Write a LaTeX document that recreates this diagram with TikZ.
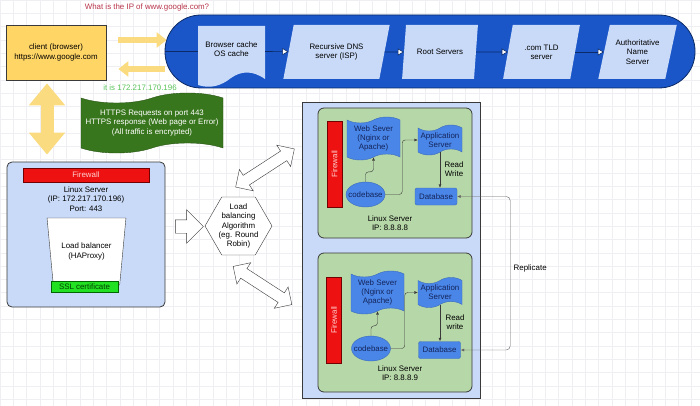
\documentclass[tikz,border=0pt]{standalone}
\usepackage{fontspec}
\setmainfont{Liberation Sans}
\usepackage{xcolor}
\usepackage{tikz}
\usetikzlibrary{arrows.meta, positioning, calc, shapes.geometric, shapes.symbols, shapes.arrows}
\definecolor{ink}{HTML}{3A3A3A}
\definecolor{navy}{HTML}{0B2A66}
\definecolor{pillblue}{HTML}{1A56C8}
\definecolor{softblue}{HTML}{C9DAF8}
\definecolor{clientgold}{HTML}{FFD666}
\definecolor{arrowgold}{HTML}{FADB80}
\definecolor{bannergreen}{HTML}{38761D}
\definecolor{servergreen}{HTML}{B6D7A8}
\definecolor{appblue}{HTML}{4A86E8}
\definecolor{apptext}{HTML}{13245A}
\definecolor{firered}{HTML}{EE1111}
\definecolor{sslgreen}{HTML}{22E022}
\definecolor{asktext}{HTML}{B8354A}
\definecolor{answertext}{HTML}{5CC45C}
\definecolor{gridline}{HTML}{EEEEF3}

\begin{document}
\begin{tikzpicture}[x=1pt, y=-1pt,
  font=\fontsize{7.9}{9.2}\selectfont,
  box/.style={draw=ink, thick, align=center, inner sep=1pt},
  dnsstep/.style={trapezium, trapezium left angle=70, trapezium right angle=110,
    trapezium stretches=true, fill=softblue, align=center, inner sep=1pt, minimum height=54},
  chain/.style={draw=navy, semithick},
  hop/.style={chain, -{Triangle[fill=white, length=6pt, width=7pt]}},
  goldbolt/.style={draw=arrowgold},
  hollow/.style={draw=ink, fill=white, inner sep=5.5pt, double arrow head extend=7pt, minimum height=70},
  firewall/.style={draw=red!45!black, fill=firered, text=white!82!red, inner sep=0pt},
  webshape/.style={tape, tape bend height=6pt, fill=appblue, draw=appblue!80!black, text=apptext, align=center, inner sep=1pt},
  codeblob/.style={ellipse, fill=appblue, draw=appblue!80!black, minimum width=39, minimum height=25, inner sep=0pt, label={[text=apptext]center:codebase}},
  dbbox/.style={rounded corners=2pt, fill=appblue, draw=appblue!80!black, text=apptext, minimum width=42, minimum height=17, inner sep=0pt},
  srvbox/.style={box, fill=servergreen, rounded corners=6pt, minimum width=154},
  flow/.style={draw=ink, ->},
  >={Latex[length=3.5pt, width=3pt]}
]
\useasboundingbox (0,0) rectangle (700,406);
\fill[white] (0,0) rectangle (700,406);
\draw[gridline, step=13.3pt] (0,406) grid (700,0);

\node[text=asktext] (ask) at (147,7) {What is the IP of www.google.com?};
\node[box, fill=clientgold, minimum width=100, minimum height=55] (client) at (56,52.5) {client (browser)\\https://www.google.com};

\node[draw=navy, thick, fill=pillblue, rounded corners=36pt, minimum width=530, minimum height=73] (dns) at (430,51.5) {};
\fill[softblue] (198,26) -- (265,26) -- (265,79) .. controls (252,70) and (241,71) .. (231,78) .. controls (221,86) and (210,89) .. (198,85) -- cycle;
\node[align=center, minimum width=67] (cache) at (231.5,49) {Browser cache\\OS cache};
\node[dnsstep, minimum width=107] (rec) at (336.5,52) {Recursive DNS\\server (ISP)};
\node[dnsstep, minimum width=76] (root) at (440,52) {Root Servers};
\node[dnsstep, minimum width=77] (tld) at (541.5,52) {.com TLD\\server};
\node[dnsstep, minimum width=79] (auth) at (637.5,52) {Authoritative\\Name\\Server};

\draw[chain] (dns.west) -- (dns.west -| cache.west);
\draw[hop] (cache.east |- dns.west) -- (rec);
\draw[hop] (rec) -- (root);
\draw[hop] (root) -- (tld);
\draw[hop] (tld) -- (auth);

\draw[goldbolt, line width=6pt, -{Triangle[length=10pt, width=15pt]}] ([shift={(12pt,12.5pt)}]client.east) -- ([shift={(2pt,12.5pt)}]client.east -| dns.west);
\draw[goldbolt, line width=6pt, -{Triangle[length=10pt, width=15pt]}] ([shift={(0pt,-16.5pt)}]client.east -| dns.west) -- ([shift={(12pt,-16.5pt)}]client.east);
\node[text=answertext] (answer) at (140,88) {it is 172.217.170.196};

\node[tape, tape bend height=10pt, fill=bannergreen, draw=bannergreen!70!black, text=white, align=center, inner sep=1pt, minimum width=142, minimum height=60] (https) at (152,123) {HTTPS Requests on port 443\\HTTPS response (Web page or Error)\\(All traffic is encrypted)};

\node[box, fill=softblue, rounded corners=5pt, minimum width=158, minimum height=145] (lnx) at (86,234.5) {};
\draw[goldbolt, line width=13pt, {Triangle[length=22pt, width=35pt]}-{Triangle[length=22pt, width=35pt]}] ([shift={(-9pt,-3pt)}]client.south) -- ([shift={(-9pt,7pt)}]client.south |- lnx.north);
\node[firewall, minimum width=126, minimum height=14] (fw0) at (86,175) {Firewall};
\node[align=center] (lnxip) at (86,199) {Linux Server\\(IP: 172.217.170.196)\\Port: 443};
\node[trapezium, shape border rotate=180, trapezium left angle=77, trapezium right angle=77, trapezium stretches=true, draw=ink, fill=white, align=center, minimum width=79, minimum height=67] (lb) at (86.5,251.5) {Load balancer\\(HAProxy)};
\node[draw=green!40!black, fill=sslgreen, text=green!25!black, inner sep=0pt, minimum width=67, minimum height=11] (ssl) at (84.5,286.5) {SSL certificate};

\node[single arrow, draw=ink, fill=white, inner sep=6.5pt, single arrow head extend=10pt, minimum height=28] (push) at (186,226.5) {};
\node[regular polygon, regular polygon sides=6, draw=ink, fill=white, minimum size=67, inner sep=0pt, label={[align=center]center:Load\\balancing\\Algorithm\\(eg. Round\\Robin)}] (algo) at (238.5,226) {};
\node[double arrow, hollow, rotate=33] (toup) at (265,168) {};
\node[double arrow, hollow, rotate=-33] (todown) at (262.5,285.5) {};

\node[box, fill=softblue, minimum width=178, minimum height=296] (farm) at (391,250) {};

\node[srvbox, minimum height=130] (srv1) at (395,173) {};
\node[firewall, rotate=90, minimum width=86, minimum height=15] (fw1) at (334.5,164) {Firewall};
\node[webshape, minimum width=53, minimum height=43] (ws1) at (373.5,138.5) {Web Sever\\(Nginx or\\Apache)};
\node[webshape, minimum width=44, minimum height=30] (app1) at (440,140) {Application\\Server};
\node[codeblob] (cb1) at (365.5,194.5) {};
\node[dbbox] (db1) at (436,196.5) {Database};
\node[align=center] (rw1) at (454,169) {Read\\Write};
\node[align=center] (ip1) at (390,223) {Linux Server\\IP: 8.8.8.8};
\draw[flow, rounded corners=3pt] (cb1.north) -- ++(0,-10) -| (ws1.south);
\draw[flow, rounded corners=3pt] (cb1.east) -- ++(17,0) |- (app1.west);
\draw[flow] (app1.south) -- (app1.south |- db1.north);

\node[srvbox, minimum height=139] (srv2) at (395,322.5) {};
\node[firewall, rotate=90, minimum width=86, minimum height=15] (fw2) at (334,320) {Firewall};
\node[webshape, minimum width=53, minimum height=43] (ws2) at (377.5,292.5) {Web Sever\\(Nginx or\\Apache)};
\node[webshape, minimum width=44, minimum height=30] (app2) at (440,292.5) {Application\\Server};
\node[codeblob] (cb2) at (371,348.5) {};
\node[dbbox] (db2) at (439.5,350) {Database};
\node[align=center] (rw2) at (455,322) {Read\\write};
\node[align=center] (ip2) at (400,373) {Linux Server\\IP: 8.8.8.9};
\draw[flow, rounded corners=3pt] (cb2.north) -- ++(0,-10) -| (ws2.south);
\draw[flow, rounded corners=3pt] (cb2.east) -- ++(14,0) |- (app2.west);
\draw[flow] (app2.south) -- (app2.south |- db2.north);

\draw[<->, draw=ink!80, rounded corners=4pt] (db1.east) -- ++(53,0) |- node[pos=0.235, right] (replabel) {Replicate} (db2.east);
\end{tikzpicture}
\end{document}
